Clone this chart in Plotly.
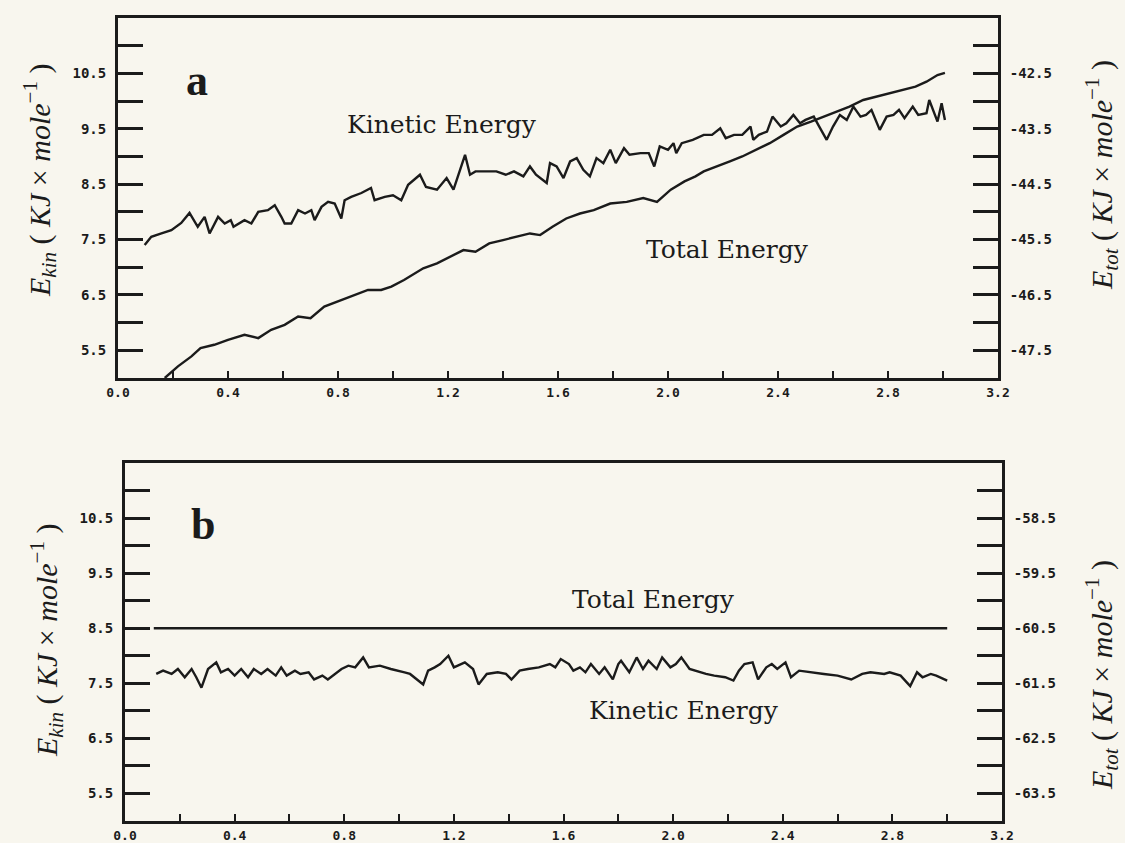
import plotly.graph_objects as go

# ---------------- data ----------------
# Panel a: kinetic energy (left axis, KJ/mole) vs time
a_kin_t = [0.097, 0.121, 0.158, 0.194, 0.23, 0.26, 0.29, 0.315, 0.333, 0.364, 0.388, 0.41, 0.42, 0.46, 0.485,
           0.51, 0.545, 0.57, 0.594, 0.606, 0.63, 0.655, 0.68, 0.703, 0.715, 0.74, 0.764, 0.788, 0.812, 0.824,
           0.848, 0.885, 0.92, 0.933, 0.97, 1.0, 1.03, 1.055, 1.098, 1.12, 1.16, 1.195, 1.22, 1.24, 1.262, 1.28,
           1.30, 1.376, 1.41, 1.44, 1.474, 1.498, 1.52, 1.559, 1.571, 1.595, 1.62, 1.644, 1.668, 1.692, 1.716,
           1.74, 1.765, 1.79, 1.81, 1.84, 1.86, 1.90, 1.93, 1.95, 1.97, 2.0, 2.02, 2.03, 2.05, 2.09, 2.13, 2.16,
           2.19, 2.21, 2.24, 2.27, 2.30, 2.31, 2.33, 2.36, 2.38, 2.41, 2.43, 2.456, 2.48, 2.50, 2.53, 2.55, 2.577,
           2.60, 2.625, 2.65, 2.674, 2.70, 2.72, 2.74, 2.77, 2.795, 2.82, 2.84, 2.86, 2.89, 2.91, 2.94, 2.95, 2.98,
           2.995, 3.007]
a_kin_e = [7.40, 7.55, 7.61, 7.67, 7.80, 7.98, 7.73, 7.91, 7.61, 7.91, 7.79, 7.85, 7.73, 7.85, 7.79,
           8.00, 8.03, 8.12, 7.91, 7.79, 7.79, 8.03, 7.97, 8.03, 7.85, 8.09, 8.18, 8.15, 7.88, 8.21,
           8.27, 8.34, 8.43, 8.21, 8.27, 8.30, 8.21, 8.49, 8.67, 8.45, 8.40, 8.61, 8.40, 8.70, 9.03, 8.67,
           8.73, 8.73, 8.67, 8.73, 8.64, 8.82, 8.67, 8.52, 8.88, 8.82, 8.61, 8.91, 8.97, 8.76, 8.64,
           8.97, 8.88, 9.12, 8.88, 9.15, 9.03, 9.06, 9.06, 8.82, 9.18, 9.12, 9.24, 9.06, 9.24, 9.30, 9.39, 9.39,
           9.51, 9.33, 9.39, 9.39, 9.54, 9.30, 9.39, 9.45, 9.72, 9.54, 9.60, 9.75, 9.60, 9.66, 9.72, 9.54, 9.30,
           9.54, 9.75, 9.66, 9.90, 9.72, 9.75, 9.84, 9.48, 9.72, 9.75, 9.84, 9.69, 9.90, 9.75, 9.78, 10.02, 9.63,
           9.96, 9.66]

# Panel a: total energy (right axis, KJ/mole) vs time
a_tot_t = [0.17, 0.218, 0.267, 0.30, 0.35, 0.40, 0.46, 0.51, 0.557, 0.606, 0.655, 0.70, 0.75, 0.80, 0.848,
           0.909, 0.957, 0.994, 1.04, 1.06, 1.11, 1.16, 1.207, 1.256, 1.30, 1.35, 1.40, 1.45, 1.498, 1.535,
           1.58, 1.63, 1.68, 1.73, 1.79, 1.85, 1.91, 1.96, 2.01, 2.06, 2.10, 2.13, 2.18, 2.225, 2.27, 2.32,
           2.37, 2.42, 2.47, 2.52, 2.565, 2.61, 2.66, 2.71, 2.76, 2.81, 2.856, 2.90, 2.94, 2.98, 3.007]
a_tot_e = [-48.00, -47.79, -47.61, -47.46, -47.40, -47.31, -47.22, -47.28, -47.13, -47.04, -46.89, -46.92,
           -46.71, -46.62, -46.53, -46.41, -46.41, -46.35, -46.23, -46.17, -46.02, -45.93, -45.81, -45.69,
           -45.72, -45.57, -45.51, -45.45, -45.39, -45.42, -45.27, -45.12, -45.03, -44.97, -44.85, -44.82,
           -44.75, -44.82, -44.60, -44.45, -44.36, -44.27, -44.18, -44.09, -44.00, -43.88, -43.76, -43.61,
           -43.46, -43.37, -43.28, -43.19, -43.10, -42.98, -42.92, -42.86, -42.80, -42.74, -42.65, -42.53,
           -42.49]

# Panel b: kinetic energy (left axis)
b_kin_t = [0.114, 0.139, 0.17, 0.193, 0.218, 0.243, 0.26, 0.279, 0.303, 0.333, 0.35, 0.376, 0.40, 0.424,
           0.449, 0.47, 0.497, 0.52, 0.55, 0.57, 0.59, 0.62, 0.64, 0.67, 0.69, 0.72, 0.74, 0.767, 0.79, 0.815,
           0.84, 0.869, 0.89, 0.93, 0.97, 1.02, 1.04, 1.088, 1.106, 1.13, 1.15, 1.18, 1.20, 1.24, 1.27, 1.29,
           1.32, 1.36, 1.39, 1.41, 1.44, 1.47, 1.51, 1.55, 1.57, 1.59, 1.62, 1.636, 1.66, 1.68, 1.70, 1.73,
           1.75, 1.78, 1.80, 1.81, 1.84, 1.867, 1.89, 1.91, 1.94, 1.96, 1.99, 2.01, 2.03, 2.06, 2.08, 2.12,
           2.15, 2.19, 2.22, 2.24, 2.26, 2.29, 2.31, 2.34, 2.36, 2.38, 2.41, 2.43, 2.46, 2.50, 2.55, 2.60,
           2.65, 2.69, 2.72, 2.77, 2.79, 2.83, 2.865, 2.89, 2.91, 2.94, 2.96, 3.0]
b_kin_e = [7.67, 7.73, 7.67, 7.76, 7.61, 7.76, 7.61, 7.42, 7.76, 7.88, 7.70, 7.76, 7.64, 7.76,
           7.61, 7.76, 7.67, 7.76, 7.64, 7.79, 7.64, 7.73, 7.67, 7.70, 7.57, 7.64, 7.57, 7.67, 7.76, 7.82,
           7.79, 7.97, 7.79, 7.82, 7.76, 7.70, 7.67, 7.48, 7.73, 7.79, 7.85, 8.00, 7.79, 7.88, 7.76, 7.48,
           7.67, 7.70, 7.67, 7.57, 7.73, 7.76, 7.79, 7.85, 7.79, 7.94, 7.85, 7.73, 7.79, 7.70, 7.85, 7.67,
           7.79, 7.57, 7.85, 7.91, 7.70, 7.97, 7.76, 7.91, 7.76, 7.97, 7.79, 7.85, 7.97, 7.76, 7.73, 7.67,
           7.64, 7.61, 7.55, 7.73, 7.85, 7.88, 7.57, 7.79, 7.85, 7.76, 7.88, 7.61, 7.73, 7.70, 7.67, 7.64,
           7.57, 7.67, 7.70, 7.67, 7.70, 7.64, 7.45, 7.70, 7.61, 7.67, 7.64, 7.55]

# Panel b: total energy (right axis) – constant
b_tot_t = [0.105, 3.0]
b_tot_e = [-60.5, -60.5]

# Tick labels
x_ticks = [0.0, 0.2, 0.4, 0.6, 0.8, 1.0, 1.2, 1.4, 1.6, 1.8, 2.0, 2.2, 2.4, 2.6, 2.8, 3.0, 3.2]
x_labels = ["0.0", " ", "0.4", " ", "0.8", " ", "1.2", " ", "1.6", " ", "2.0", " ", "2.4", " ", "2.8", " ", "3.2"]
kin_ticks = [5.5, 6.0, 6.5, 7.0, 7.5, 8.0, 8.5, 9.0, 9.5, 10.0, 10.5, 11.0]
kin_labels = ["5.5", " ", "6.5", " ", "7.5", " ", "8.5", " ", "9.5", " ", "10.5", " "]
a_tot_ticks = [-47.5, -47.0, -46.5, -46.0, -45.5, -45.0, -44.5, -44.0, -43.5, -43.0, -42.5, -42.0]
a_tot_labels = ["-47.5", " ", "-46.5", " ", "-45.5", " ", "-44.5", " ", "-43.5", " ", "-42.5", " "]
b_tot_ticks = [-63.5, -63.0, -62.5, -62.0, -61.5, -61.0, -60.5, -60.0, -59.5, -59.0, -58.5, -58.0]
b_tot_labels = ["-63.5", " ", "-62.5", " ", "-61.5", " ", "-60.5", " ", "-59.5", " ", "-58.5", " "]

# ---------------- figure ----------------
W, H = 1125, 843
INK = "#1b1b1b"
BG = "#f8f6ee"


def fx(p):
    return p / W


def fy(p):
    return 1 - p / H


line_style = dict(color=INK, width=2.4)

fig = go.Figure()
fig.add_trace(go.Scatter(x=a_kin_t, y=a_kin_e, mode="lines", line=line_style, xaxis="x", yaxis="y",
                         name="Kinetic Energy (a)"))
fig.add_trace(go.Scatter(x=a_tot_t, y=a_tot_e, mode="lines", line=line_style, xaxis="x", yaxis="y2",
                         name="Total Energy (a)"))
fig.add_trace(go.Scatter(x=b_kin_t, y=b_kin_e, mode="lines", line=line_style, xaxis="x2", yaxis="y3",
                         name="Kinetic Energy (b)"))
fig.add_trace(go.Scatter(x=b_tot_t, y=b_tot_e, mode="lines", line=line_style, xaxis="x2", yaxis="y4",
                         name="Total Energy (b)"))

tickfont = dict(family="DejaVu Sans Mono", size=14, color=INK, weight="bold")
xtickfont = dict(family="DejaVu Sans Mono", size=13, color=INK, weight="bold")

common_x = dict(range=[0, 3.2], tickmode="array", tickvals=x_ticks, ticktext=x_labels,
                ticks="inside", ticklen=7, tickwidth=2, tickcolor=INK,
                showline=True, linewidth=3, linecolor=INK, mirror=True, automargin=False,
                showgrid=False, zeroline=False, tickfont=xtickfont, ticklabelstandoff=0)
common_y = dict(tickmode="array", ticks="inside", ticklen=25, tickwidth=3, tickcolor=INK,
                showline=True, linewidth=3, linecolor=INK, showgrid=False, zeroline=False,
                automargin=False, tickfont=tickfont, ticklabelstandoff=6)

fig.update_layout(
    width=W, height=H, autosize=False,
    margin=dict(l=0, r=0, t=0, b=0, pad=0),
    paper_bgcolor=BG, plot_bgcolor=BG,
    showlegend=False,
    xaxis=dict(domain=[fx(118), fx(998)], anchor="y", **common_x),
    yaxis=dict(domain=[fy(378), fy(18)], anchor="x", range=[5.0, 11.5],
               tickvals=kin_ticks, ticktext=kin_labels, **common_y),
    yaxis2=dict(overlaying="y", side="right", anchor="x", range=[-48.0, -41.5],
                tickvals=a_tot_ticks, ticktext=a_tot_labels, **common_y),
    xaxis2=dict(domain=[fx(125), fx(1002)], anchor="y3", **common_x),
    yaxis3=dict(domain=[fy(821), fy(463)], anchor="x2", range=[5.0, 11.5],
                tickvals=kin_ticks, ticktext=kin_labels, **common_y),
    yaxis4=dict(overlaying="y3", side="right", anchor="x2", range=[-64.0, -57.5],
                tickvals=b_tot_ticks, ticktext=b_tot_labels, **common_y),
)

serif = "DejaVu Serif"
title_font = dict(family="Liberation Serif", size=30, color=INK)
label_font = dict(family=serif, size=25, color=INK)
letter_font = dict(family="Liberation Serif", size=44, color=INK, weight="bold")

kin_title = "<i>E<sub>kin</sub></i> ( <i>KJ</i> × <i>mole</i><sup>−1</sup> )"
tot_title = "<i>E<sub>tot</sub></i> ( <i>KJ</i> × <i>mole</i><sup>−1</sup> )"

annots = [
    # axis titles
    dict(x=fx(40), y=fy(181), text=kin_title, textangle=-90, font=title_font),
    dict(x=fx(1101), y=fy(175), text=tot_title, textangle=-90, font=title_font),
    dict(x=fx(46), y=fy(641), text=kin_title, textangle=-90, font=title_font),
    dict(x=fx(1101), y=fy(675), text=tot_title, textangle=-90, font=title_font),
    # panel letters
    dict(x=fx(197), y=fy(80), text="a", font=letter_font),
    dict(x=fx(203), y=fy(524), text="b", font=letter_font),
    # curve labels
    dict(x=fx(442), y=fy(125), text="Kinetic Energy", font=label_font),
    dict(x=fx(727), y=fy(249), text="Total Energy", font=label_font),
    dict(x=fx(653), y=fy(599), text="Total Energy", font=label_font),
    dict(x=fx(684), y=fy(710), text="Kinetic Energy", font=label_font),
]
for a in annots:
    a.update(xref="paper", yref="paper", showarrow=False, xanchor="center", yanchor="middle")
fig.update_layout(annotations=annots)

fig.write_html("out.html",
               config={"displayModeBar": False, "staticPlot": True},
               post_script="document.body.style.margin='0';document.body.style.background='" + BG + "';")
